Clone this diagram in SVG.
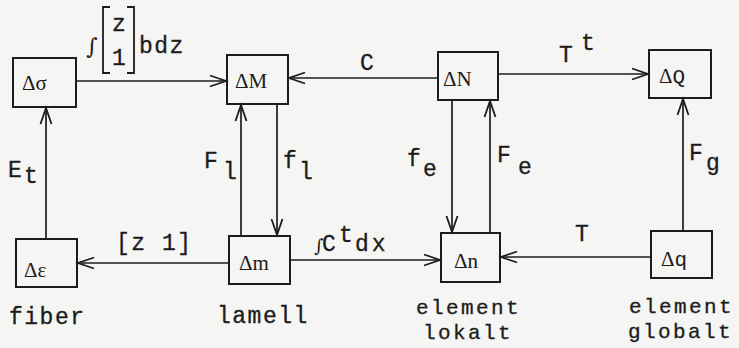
<svg xmlns="http://www.w3.org/2000/svg" width="739" height="348" viewBox="0 0 739 348">
<defs>
<marker id="ah" markerUnits="userSpaceOnUse" markerWidth="20" markerHeight="14" viewBox="-17 -7 20 14" refX="0" refY="0" orient="auto">
<path d="M-16,-5.5 L0,0 L-16,5.5" fill="none" stroke="#1c1c1c" stroke-width="1.8"/>
</marker>
<style>
.box{fill:none;stroke:#1c1c1c;stroke-width:2}
.ln{fill:none;stroke:#1c1c1c;stroke-width:1.7;marker-end:url(#ah)}
.bl{font-family:"Liberation Serif","DejaVu Serif",serif;font-size:21px;fill:#1c1c1c}
.tw{font-family:"Liberation Mono","DejaVu Sans Mono",monospace;font-size:23px;fill:#1c1c1c;letter-spacing:1.5px;stroke:#1c1c1c;stroke-width:0.3}
.cap2{font-family:"Liberation Mono","DejaVu Sans Mono",monospace;font-size:21px;fill:#1c1c1c;letter-spacing:2.4px;stroke:#1c1c1c;stroke-width:0.3}
.sub{font-family:"Liberation Mono","DejaVu Sans Mono",monospace;font-size:23px;fill:#1c1c1c;stroke:#1c1c1c;stroke-width:0.3}
</style>
</defs>
<rect width="739" height="348" fill="#f5f5f3"/>

<g id="connectors">
<line class="ln" x1="76" y1="81" x2="226" y2="81"/>
<line class="ln" x1="438" y1="78" x2="289" y2="78"/>
<line class="ln" x1="498" y1="74" x2="648" y2="74"/>
<line class="ln" x1="229" y1="263" x2="78" y2="263"/>
<line class="ln" x1="290" y1="260" x2="440" y2="260"/>
<line class="ln" x1="651" y1="257" x2="501" y2="257"/>
<line class="ln" x1="46" y1="239" x2="46" y2="108"/>
<line class="ln" x1="241" y1="236" x2="241" y2="105"/>
<line class="ln" x1="277" y1="104" x2="277" y2="235"/>
<line class="ln" x1="452" y1="100" x2="452" y2="232"/>
<line class="ln" x1="490" y1="233" x2="490" y2="101"/>
<line class="ln" x1="683" y1="231" x2="683" y2="99"/>
</g>

<g id="edge-labels">
<text x="86" y="54" font-family="'DejaVu Serif',serif" font-size="22" fill="#1c1c1c">∫</text>
<polyline points="110,7 103,7 103,73 110,73" fill="none" stroke="#1c1c1c" stroke-width="1.8"/>
<polyline points="127,7 134,7 134,73 127,73" fill="none" stroke="#1c1c1c" stroke-width="1.8"/>
<text class="sub" x="112" y="31">z</text>
<text class="sub" x="112" y="65">1</text>
<text class="tw" x="139" y="53" letter-spacing="4.5">bdz</text>
<text class="sub" x="360" y="70">C</text>
<text class="sub" x="559" y="62">T</text>
<text class="sub" x="581" y="50">t</text>
<text class="sub" x="575" y="241">T</text>
<text class="tw" x="116" y="250">[z 1]</text>
<text x="314" y="252" font-family="'DejaVu Serif',serif" font-size="18" fill="#1c1c1c">∫</text>
<text class="sub" x="322" y="251">C</text>
<text class="sub" x="339" y="242">t</text>
<text class="sub" x="355" y="251" letter-spacing="3">dx</text>
<text class="sub" x="8" y="177">E</text>
<text class="sub" x="24" y="183">t</text>
<text class="sub" x="204" y="168">F</text>
<text class="sub" x="223" y="179">l</text>
<text class="sub" x="283" y="168">f</text>
<text class="sub" x="299" y="179">l</text>
<text class="sub" x="407" y="166">f</text>
<text class="sub" x="423" y="176">e</text>
<text class="sub" x="497" y="162">F</text>
<text class="sub" x="518" y="174">e</text>
<text class="sub" x="689" y="160">F</text>
<text class="sub" x="706" y="170">g</text>
</g>

<g id="n-dsigma"><rect class="box" x="13" y="58" width="63" height="49"/><text class="bl" x="22" y="90">Δσ</text></g>
<g id="n-dM"><rect class="box" x="227" y="55" width="61" height="49"/><text class="bl" x="235" y="88">ΔM</text></g>
<g id="n-dN"><rect class="box" x="438" y="52" width="60" height="48"/><text class="bl" x="443" y="86">ΔN</text></g>
<g id="n-dQ"><rect class="box" x="649" y="50" width="62" height="48"/><text class="bl" x="659" y="83">Δ<tspan font-family="'Liberation Mono',monospace">Q</tspan></text></g>
<g id="n-deps"><rect class="box" x="16" y="239" width="61" height="48"/><text class="bl" x="24" y="277">Δε</text></g>
<g id="n-dm"><rect class="box" x="229" y="236" width="61" height="48"/><text class="bl" x="239" y="270">Δm</text></g>
<g id="n-dn"><rect class="box" x="441" y="233" width="59" height="49"/><text class="bl" x="454" y="268">Δn</text></g>
<g id="n-dq"><rect class="box" x="651" y="231" width="61" height="47"/><text class="bl" x="661" y="266">Δ<tspan font-family="'Liberation Mono',monospace">q</tspan></text></g>

<g id="captions">
<text class="tw" x="9" y="324">fiber</text>
<text class="tw" x="217" y="323">lamell</text>
<text class="cap2"><tspan x="416" y="314">element</tspan><tspan x="423" y="339">lokalt</tspan></text>
<text class="cap2"><tspan x="629" y="313">element</tspan><tspan x="628" y="338">globalt</tspan></text>
</g>
</svg>
